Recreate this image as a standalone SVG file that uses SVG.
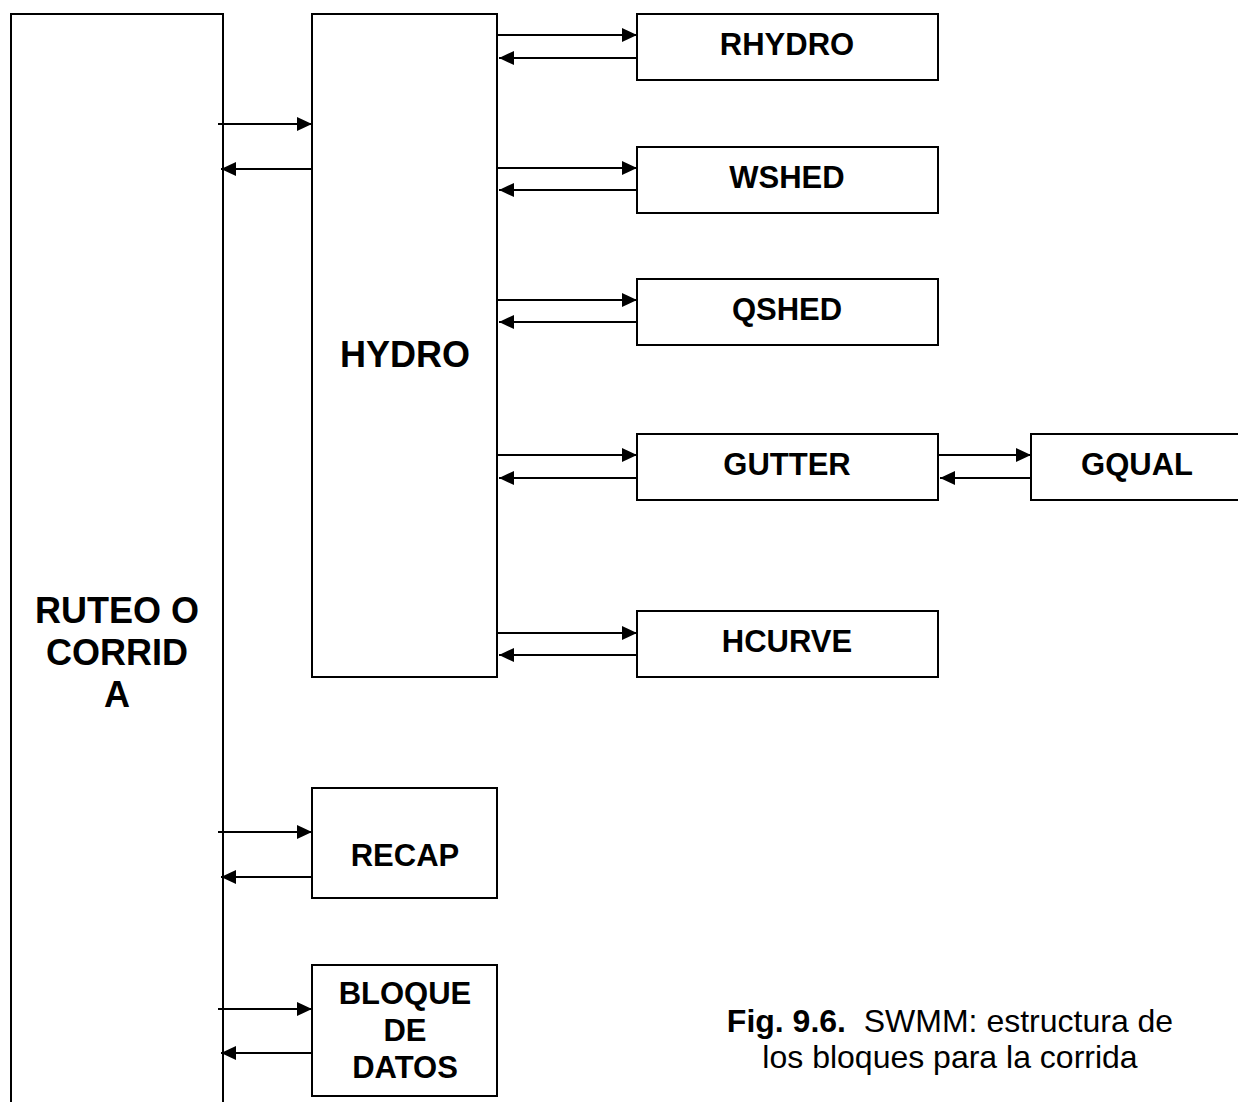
<svg xmlns="http://www.w3.org/2000/svg" width="1238" height="1102" viewBox="0 0 1238 1102">
<defs>
<marker id="ah" markerUnits="userSpaceOnUse" markerWidth="16" markerHeight="16" refX="15" refY="7" orient="auto">
<path d="M0,0 L15,7 L0,14 Z" fill="#000"/>
</marker>
<style>
.box{fill:#fff;stroke:#000;stroke-width:2}
.lbl{font-family:"Liberation Sans",Arial,sans-serif;font-weight:bold;font-size:31px;text-anchor:middle;fill:#000}
.big{font-size:36px}
.cn line{stroke:#000;stroke-width:2;marker-end:url(#ah)}
.cap{font-family:"Liberation Sans",Arial,sans-serif;font-size:32px;text-anchor:middle;fill:#000}
</style>
</defs>
<rect width="1238" height="1102" fill="#fff"/>
<g id="ruteo">
<path class="box" d="M11,1104 L11,14 L223,14 L223,1104"/>
<text class="lbl big" x="117" y="623">RUTEO O</text>
<text class="lbl big" x="117" y="665">CORRID</text>
<text class="lbl big" x="117" y="707">A</text>
</g>
<g id="hydro">
<rect class="box" x="312" y="14" width="185" height="663"/>
<text class="lbl big" x="405" y="367">HYDRO</text>
</g>
<g id="rhydro">
<rect class="box" x="637" y="14" width="301" height="66"/>
<text class="lbl" x="787" y="55">RHYDRO</text>
</g>
<g id="wshed">
<rect class="box" x="637" y="147" width="301" height="66"/>
<text class="lbl" x="787" y="188">WSHED</text>
</g>
<g id="qshed">
<rect class="box" x="637" y="279" width="301" height="66"/>
<text class="lbl" x="787" y="320">QSHED</text>
</g>
<g id="gutter">
<rect class="box" x="637" y="434" width="301" height="66"/>
<text class="lbl" x="787" y="475">GUTTER</text>
</g>
<g id="gqual">
<rect class="box" x="1031" y="434" width="220" height="66"/>
<text class="lbl" x="1137" y="475">GQUAL</text>
</g>
<g id="hcurve">
<rect class="box" x="637" y="611" width="301" height="66"/>
<text class="lbl" x="787" y="652">HCURVE</text>
</g>
<g id="recap">
<rect class="box" x="312" y="788" width="185" height="110"/>
<text class="lbl" x="405" y="866">RECAP</text>
</g>
<g id="bloque">
<rect class="box" x="312" y="965" width="185" height="131"/>
<text class="lbl" x="405" y="1004">BLOQUE</text>
<text class="lbl" x="405" y="1041">DE</text>
<text class="lbl" x="405" y="1078">DATOS</text>
</g>
<g id="connectors" class="cn">
<line x1="218" y1="124" x2="312" y2="124"/>
<line x1="312" y1="169" x2="221" y2="169"/>
<line x1="497" y1="35" x2="637" y2="35"/>
<line x1="637" y1="58" x2="499" y2="58"/>
<line x1="497" y1="168" x2="637" y2="168"/>
<line x1="637" y1="190" x2="499" y2="190"/>
<line x1="497" y1="300" x2="637" y2="300"/>
<line x1="637" y1="322" x2="499" y2="322"/>
<line x1="497" y1="455" x2="637" y2="455"/>
<line x1="637" y1="478" x2="499" y2="478"/>
<line x1="938" y1="455" x2="1031" y2="455"/>
<line x1="1031" y1="478" x2="940" y2="478"/>
<line x1="497" y1="633" x2="637" y2="633"/>
<line x1="637" y1="655" x2="499" y2="655"/>
<line x1="218" y1="832" x2="312" y2="832"/>
<line x1="312" y1="877" x2="221" y2="877"/>
<line x1="218" y1="1009" x2="312" y2="1009"/>
<line x1="312" y1="1053" x2="221" y2="1053"/>
</g>
<g id="caption">
<text class="cap" x="950" y="1032" xml:space="preserve"><tspan font-weight="bold">Fig. 9.6.</tspan>  SWMM: estructura de</text>
<text class="cap" x="950" y="1068">los bloques para la corrida</text>
</g>
</svg>
